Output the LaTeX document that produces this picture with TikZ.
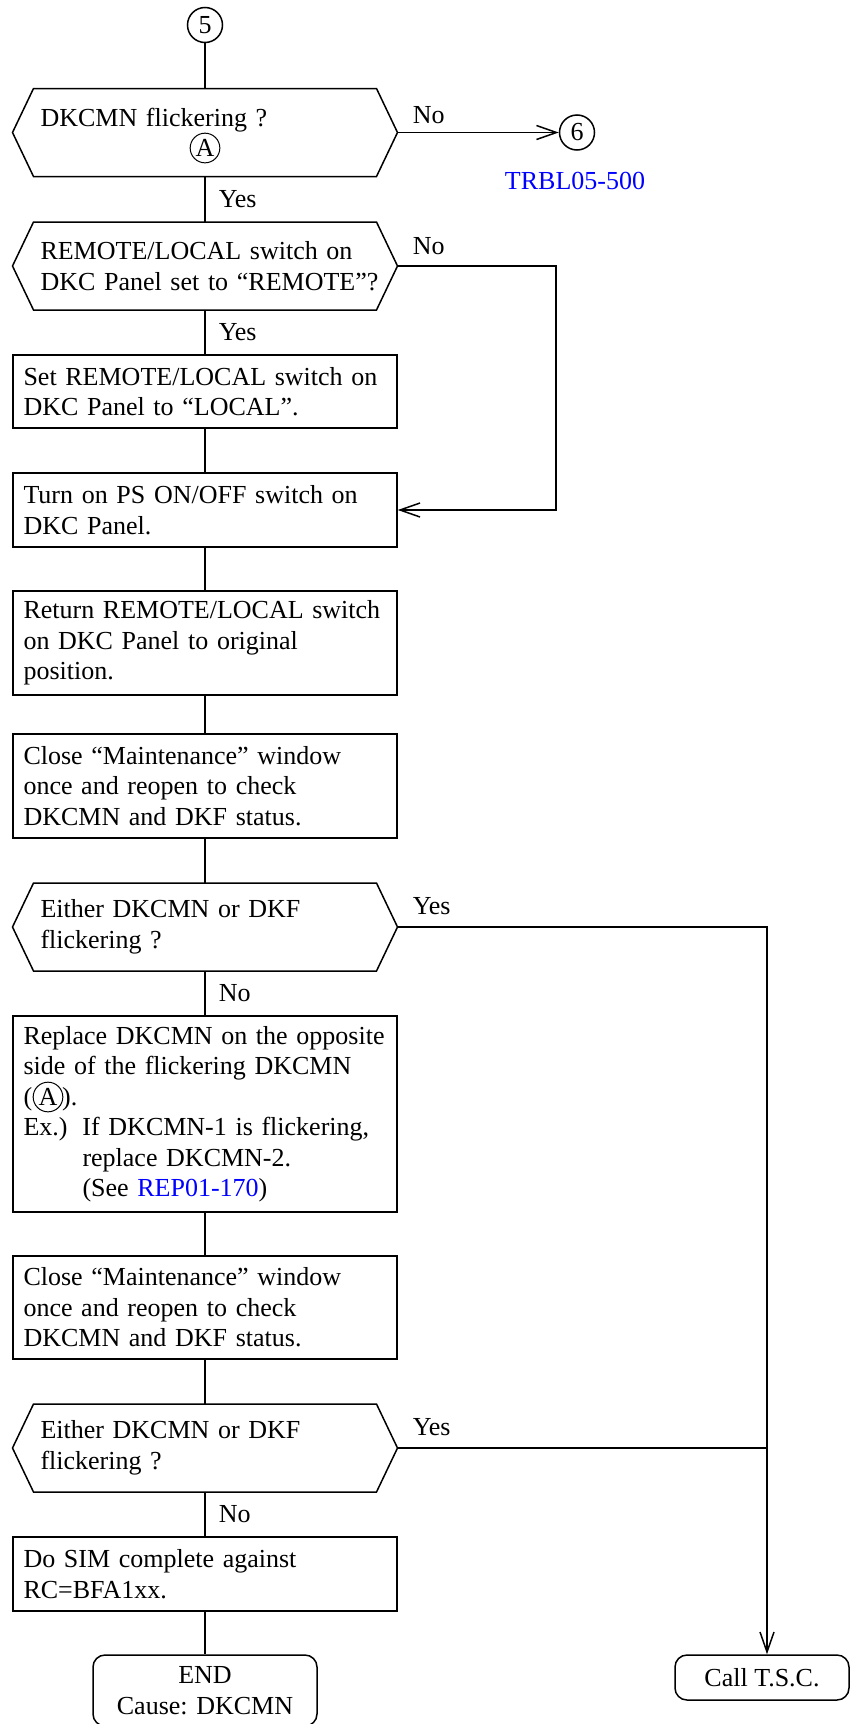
\documentclass[tikz,border=0pt]{standalone}
\usepackage{fontspec}
\setmainfont{Liberation Serif}
\usetikzlibrary{arrows.meta}

\begin{document}
\begin{tikzpicture}[x=1pt, y=-1pt, line width=1.5pt,
  font=\fontsize{26}{30.5}\selectfont,
  conn/.style={circle, draw, minimum size=35pt, inner sep=0pt},
  circmark/.style={circle, draw, line width=1pt, inner sep=1.5pt},
  decision/.style={minimum width=385pt, minimum height=88pt, text width=329pt,
    inner xsep=28pt, inner ysep=4pt, outer sep=0pt, align=left},
  stepbox/.style={draw, minimum width=384pt, text width=363pt, inner xsep=10.5pt,
    inner ysep=6pt, align=left},
  endbox/.style={draw, rounded corners=12pt, align=center, inner sep=4pt},
  lbl/.style={anchor=west, inner sep=0pt},
  arr/.style={-{Straight Barb[length=20pt, width=14pt]}}]
  \useasboundingbox (0,0) rectangle (852,1724);

  % Main column
  \node[conn] (c5) at (205,25) {5};
  \node[decision] (d1) at (205,132.5) {DKCMN flickering ?\\ \phantom{A}};
  \node[circmark] (markA1) at (205,148) {A};
  \node[decision] (d2) at (205,266) {REMOTE/LOCAL switch on\\
    \mbox{DKC Panel set to “REMOTE”?}};
  \node[stepbox, minimum height=73pt] (b2) at (205,391.5)
    {Set REMOTE/LOCAL switch on\\ DKC Panel to “LOCAL”.};
  \node[stepbox, minimum height=74pt] (b3) at (205,510)
    {Turn on PS ON/OFF switch on\\ DKC Panel.};
  \node[stepbox, minimum height=104pt] (b4) at (205,643)
    {Return REMOTE/LOCAL switch\\ on DKC Panel to original\\ position.};
  \node[stepbox, minimum height=104pt] (b5) at (205,786)
    {Close “Maintenance” window\\ once and reopen to check\\ DKCMN and DKF status.};
  \node[decision] (d3) at (205,927) {Either DKCMN or DKF\\ flickering ?};
  \node[stepbox, minimum height=196pt] (b6) at (205,1114)
    {Replace DKCMN on the opposite\\
     side of the flickering DKCMN\\
     (\hspace{30pt}).\\
     \makebox[59pt][l]{Ex.)}If DKCMN-1 is flickering,\\
     \hspace*{59pt}replace DKCMN-2.\\
     \hspace*{59pt}(See \textcolor{blue}{REP01-170})};
  \node[circmark] (markA2) at (48,1097) {A};
  \node[stepbox, minimum height=103pt] (b7) at (205,1307.5)
    {Close “Maintenance” window\\ once and reopen to check\\ DKCMN and DKF status.};
  \node[decision] (d4) at (205,1448) {Either DKCMN or DKF\\ flickering ?};
  \node[stepbox, minimum height=74pt] (b8) at (205,1574)
    {Do SIM complete against\\ RC=BFA1xx.};
  \node[endbox, minimum width=224pt, minimum height=71pt] (end) at (205,1690.5)
    {END\\ Cause: DKCMN};

  % Right side
  \node[conn] (c6) at (577,132.5) {6};
  \node[text=blue] (ref6) at (575,181) {TRBL05-500};
  \node[endbox, minimum width=174pt, minimum height=45pt] (call) at (762,1677.5)
    {Call T.S.C.};
  \coordinate (r2) at (556,266);
  \coordinate (r3) at (767,927);
  \coordinate (r4) at (767,1448);

  % Hexagons
  \foreach \d in {d1,d2,d3,d4}
    \draw (\d.west) -- ([xshift=21pt]\d.north west) -- ([xshift=-21pt]\d.north east)
      -- (\d.east) -- ([xshift=-21pt]\d.south east) -- ([xshift=21pt]\d.south west) -- cycle;

  % Labels
  \node[lbl] (no1) at (412,115) {No};
  \node[lbl] (yes1) at (218,199.5) {Yes};
  \node[lbl] (no2) at (412,246) {No};
  \node[lbl] (yes2) at (218,332.5) {Yes};
  \node[lbl] (yes3) at (412,906) {Yes};
  \node[lbl] (no3) at (218,993.5) {No};
  \node[lbl] (yes4) at (412,1427) {Yes};
  \node[lbl] (no4) at (218,1514.5) {No};

  % Flow
  \draw (c5) -- (d1);
  \draw[arr] (d1.east) -- (c6);
  \draw (d1) -- (d2);
  \draw (d2) -- (b2);
  \draw (b2) -- (b3);
  \draw (b3) -- (b4);
  \draw (b4) -- (b5);
  \draw (b5) -- (d3);
  \draw (d3) -- (b6);
  \draw (b6) -- (b7);
  \draw (b7) -- (d4);
  \draw (d4) -- (b8);
  \draw (b8) -- (end);
  \draw[arr] (d2.east) -- (r2) |- (b3.east);
  \draw[arr] (d3.east) -- (r3) -- (r3 |- call.north);
  \draw (d4.east) -- (r4);
\end{tikzpicture}
\end{document}
